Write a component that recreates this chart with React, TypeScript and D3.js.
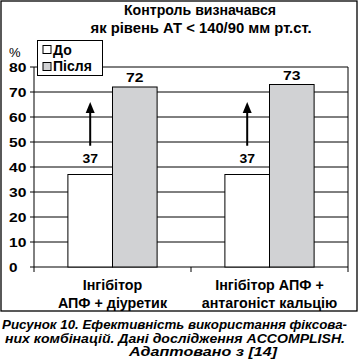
import React from "react";
import * as d3 from "d3";

const categories = [["Інгібітор", "АПФ + діуретик"], ["Інгібітор АПФ +", "антагоніст кальцію"]];
const categoryKeys = ["c1", "c2"];
const seriesNames = ["До", "Після"];
const beforeValues = [37, 37];
const afterValues = [72, 73];
const yTicks = [0, 10, 20, 30, 40, 50, 60, 70, 80];
const arrowFrom = 48.5;
const arrowTo = 66;
const titleLines = ["Контроль визначався", "як рівень АТ < 140/90 мм рт.ст."];
const captionLines = [
  "Рисунок 10. Ефективність використання фіксова-",
  "них комбінацій. Дані дослідження ACCOMPLISH.",
  "Адаптовано з [14]",
];

const FONT = "'Liberation Sans', Arial, sans-serif";

export default function App() {
  const W = 359, H = 361;
  const left = 34, right = 348, top = 67, bottom = 267;
  const x = d3.scaleBand<string>().domain(categoryKeys).range([left, right]).padding(0);
  const x1 = d3.scaleBand<string>().domain(seriesNames).range([0, x.bandwidth()]).paddingInner(0).paddingOuter(0.76);
  const y = d3.scaleLinear().domain([0, 80]).range([bottom, top]);
  const fills = ["#ffffff", "#d1d2d4"];
  const series = [beforeValues, afterValues];

  return (
    <svg width={W} height={H} style={{ position: "absolute", left: 0, top: 0 }} fontFamily={FONT}>
      <rect x={0} y={0} width={W} height={H} fill="#fff" />
      {/* outer frame */}
      <rect x={1} y={1} width={356} height={310} fill="none" stroke="#000" strokeWidth={1.3} />
      {/* title */}
      <text x={200} y={15} textAnchor="middle" fontSize={14} fontWeight="bold" textLength={152} lengthAdjust="spacingAndGlyphs">{titleLines[0]}</text>
      <text x={201} y={32.5} textAnchor="middle" fontSize={14} fontWeight="bold" textLength={221} lengthAdjust="spacingAndGlyphs">{titleLines[1]}</text>
      {/* grid + ticks */}
      {yTicks.map((t) => (
        <line key={t} x1={left - 4} x2={right} y1={y(t)} y2={y(t)} stroke="#000" strokeWidth={1} />
      ))}
      {yTicks.map((t) => (
        <text key={"l" + t} x={9} y={y(t) + 4.5} fontSize={13} fontWeight="bold"
          textLength={t === 0 ? 8.5 : 17.4} lengthAdjust="spacingAndGlyphs">{t}</text>
      ))}
      <text x={9} y={57} fontSize={13}>%</text>
      <line x1={left} x2={left} y1={top} y2={bottom + 5} stroke="#000" strokeWidth={1} />
      <line x1={right} x2={right} y1={top} y2={bottom + 5} stroke="#000" strokeWidth={1} />
      <line x1={x("c2")!} x2={x("c2")!} y1={bottom} y2={bottom + 5} stroke="#000" strokeWidth={1} />
      {/* bars */}
      {categoryKeys.map((c, ci) =>
        seriesNames.map((s, si) => (
          <rect key={c + s} x={x(c)! + x1(s)!} y={y(series[si][ci])} width={x1.bandwidth()}
            height={y(0) - y(series[si][ci])} fill={fills[si]} stroke="#000" strokeWidth={1} />
        ))
      )}
      {/* value labels */}
      {categoryKeys.map((c, ci) => {
        const cx0 = x(c)! + x1("До")! + x1.bandwidth() / 2;
        const cx1 = x(c)! + x1("Після")! + x1.bandwidth() / 2;
        return (
          <g key={"v" + c}>
            <text x={cx1} y={y(afterValues[ci]) - 5} textAnchor="middle" fontSize={13.5} fontWeight="bold"
              textLength={17.5} lengthAdjust="spacingAndGlyphs">{afterValues[ci]}</text>
            <text x={cx0} y={163} textAnchor="middle" fontSize={13.5} fontWeight="bold"
              textLength={15.5} lengthAdjust="spacingAndGlyphs">{beforeValues[ci]}</text>
            <line x1={cx0} x2={cx0} y1={y(arrowFrom)} y2={y(arrowTo) + 10} stroke="#000" strokeWidth={2} />
            <path d={`M${cx0},${y(arrowTo)} L${cx0 - 4.5},${y(arrowTo) + 11} L${cx0 + 4.5},${y(arrowTo) + 11} Z`} fill="#000" />
          </g>
        );
      })}
      {/* legend */}
      <rect x={37.5} y={40.5} width={65} height={35} fill="#fff" stroke="#000" strokeWidth={1} />
      {seriesNames.map((s, i) => (
        <g key={"lg" + s}>
          <rect x={43} y={45.5 + i * 17} width={8} height={8} fill={fills[i]} stroke="#000" strokeWidth={1} />
          <text x={53} y={54.5 + i * 16.5} fontSize={14} fontWeight="bold">{s}</text>
        </g>
      ))}
      {/* category labels */}
      {categoryKeys.map((c, ci) =>
        categories[ci].map((line, li) => (
          <text key={c + li} x={x(c)! + x.bandwidth() / 2} y={290 + li * 18} textAnchor="middle" fontSize={14.3} fontWeight="bold">{line}</text>
        ))
      )}
      {/* caption */}
      <text x={2} y={329} fontSize={13.5} fontWeight="bold" fontStyle="italic" textLength={345} lengthAdjust="spacingAndGlyphs">{captionLines[0]}</text>
      <text x={5} y={342.5} fontSize={13.5} fontWeight="bold" fontStyle="italic" textLength={340} lengthAdjust="spacingAndGlyphs">{captionLines[1]}</text>
      <text x={203} y={356} textAnchor="middle" fontSize={13.5} fontWeight="bold" fontStyle="italic" textLength={148} lengthAdjust="spacingAndGlyphs">{captionLines[2]}</text>
    </svg>
  );
}
